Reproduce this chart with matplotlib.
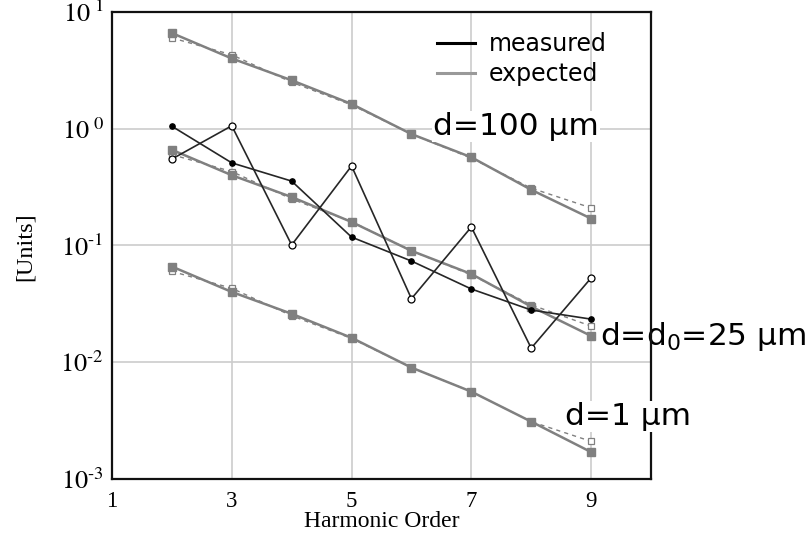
import matplotlib
matplotlib.use('Agg')
import matplotlib.pyplot as plt
from matplotlib.lines import Line2D
from matplotlib.ticker import NullLocator

# harmonic orders
orders = [2, 3, 4, 5, 6, 7, 8, 9]

# gray squares (solid) and open squares (dashed) for the three distances
sq_100 = [6.6, 4.0, 2.6, 1.63, 0.90, 0.57, 0.30, 0.17]
exp_100 = [6.0, 4.3, 2.5, 1.6, 0.90, 0.56, 0.31, 0.21]
sq_25 = [0.66, 0.40, 0.26, 0.159, 0.090, 0.057, 0.030, 0.0168]
exp_25 = [0.60, 0.43, 0.25, 0.16, 0.090, 0.056, 0.031, 0.0204]
sq_1 = [0.066, 0.040, 0.026, 0.0162, 0.0090, 0.0056, 0.0031, 0.0017]
exp_1 = [0.060, 0.043, 0.025, 0.016, 0.0090, 0.0056, 0.0031, 0.0021]

# black measured curves
meas_dots = [1.05, 0.51, 0.356, 0.118, 0.0736, 0.0424, 0.028, 0.0234]
meas_circles = [0.55, 1.06, 0.101, 0.48, 0.035, 0.144, 0.0132, 0.0527]

x_ticks = [1, 3, 5, 7, 9]
y_ticks = [1e-3, 1e-2, 1e-1, 1, 10]
y_tick_labels = [r'$10^{\text{-}3}$', r'$10^{\text{-}2}$', r'$10^{\text{-}1}$',
                 r'$10^{\ 0}$', r'$10^{\ 1}$']

plt.rcParams['mathtext.fontset'] = 'stix'
SERIF = ['Liberation Serif', 'DejaVu Serif']
GRAY = '#808080'


def plot_expected(ax, solid, dashed):
    ax.plot(orders, dashed, color=GRAY, lw=1.0, ls=(0, (3, 3)), marker='s',
            ms=4.5, mfc='white', mec=GRAY, mew=0.9)
    ax.plot(orders, solid, color=GRAY, lw=1.8, marker='s', ms=6,
            mfc=GRAY, mec=GRAY)


def main():
    fig = plt.figure(figsize=(8.11, 5.4), dpi=100)
    ax = fig.add_axes([0.1381, 0.1130, 0.6646, 0.8648])
    ax.set_yscale('log')
    ax.set_xlim(1, 10)
    ax.set_ylim(1e-3, 10)

    plot_expected(ax, sq_100, exp_100)
    plot_expected(ax, sq_25, exp_25)
    plot_expected(ax, sq_1, exp_1)

    ax.plot(orders, meas_dots, color='#262626', lw=1.2, marker='o', ms=3.8,
            mfc='black', mec='black')
    ax.plot(orders, meas_circles, color='#262626', lw=1.2, marker='o', ms=5,
            mfc='white', mec='black', mew=0.9)

    ax.set_xticks(x_ticks)
    ax.set_xticklabels([str(t) for t in x_ticks], fontfamily=SERIF, fontsize=16.5)
    ax.set_yticks(y_ticks)
    ax.set_yticklabels(y_tick_labels, fontsize=19)
    ax.yaxis.set_minor_locator(NullLocator())
    ax.tick_params(length=0)
    ax.tick_params(axis='x', pad=9)
    ax.tick_params(axis='y', pad=6)
    ax.grid(True, color='#cccccc', lw=1.2)
    ax.set_axisbelow(True)
    for s in ax.spines.values():
        s.set_linewidth(1.6)
        s.set_color('#111111')

    ax.set_xlabel('Harmonic Order', fontfamily=SERIF, fontsize=17)
    ax.xaxis.set_label_coords(0.5, -0.09)
    ax.xaxis.label.set_va('center')
    ax.set_ylabel('[Units]', fontfamily=SERIF, fontsize=17.5)
    ax.yaxis.set_label_coords(-0.161, 0.497)
    ax.yaxis.label.set_va('center')

    handles = [Line2D([], [], color='black', lw=2.2),
               Line2D([], [], color='#999999', lw=2.2)]
    ax.legend(handles, ['measured', 'expected'], loc='upper left',
              bbox_to_anchor=(0.603, 0.957), frameon=False, fontsize=17,
              borderpad=0, borderaxespad=0, handlelength=1.6,
              handletextpad=0.6, labelspacing=0.27)

    box = dict(fc='white', ec='none', pad=1)
    ax.text(0.5955, 0.7366, 'd=100 \u03bcm', transform=ax.transAxes,
            fontsize=22.5, va='baseline', bbox=box)
    ax.text(0.9054, 0.287, 'd=d$_0$=25 \u03bcm', transform=ax.transAxes,
            fontsize=22.5, va='baseline', math_fontfamily='dejavusans',
            bbox=box, zorder=2.4)
    ax.text(0.8404, 0.1156, 'd=1 \u03bcm', transform=ax.transAxes,
            fontsize=22.5, va='baseline', bbox=box, zorder=3)

    fig.savefig('out.png', dpi=100)


if __name__ == '__main__':
    main()
